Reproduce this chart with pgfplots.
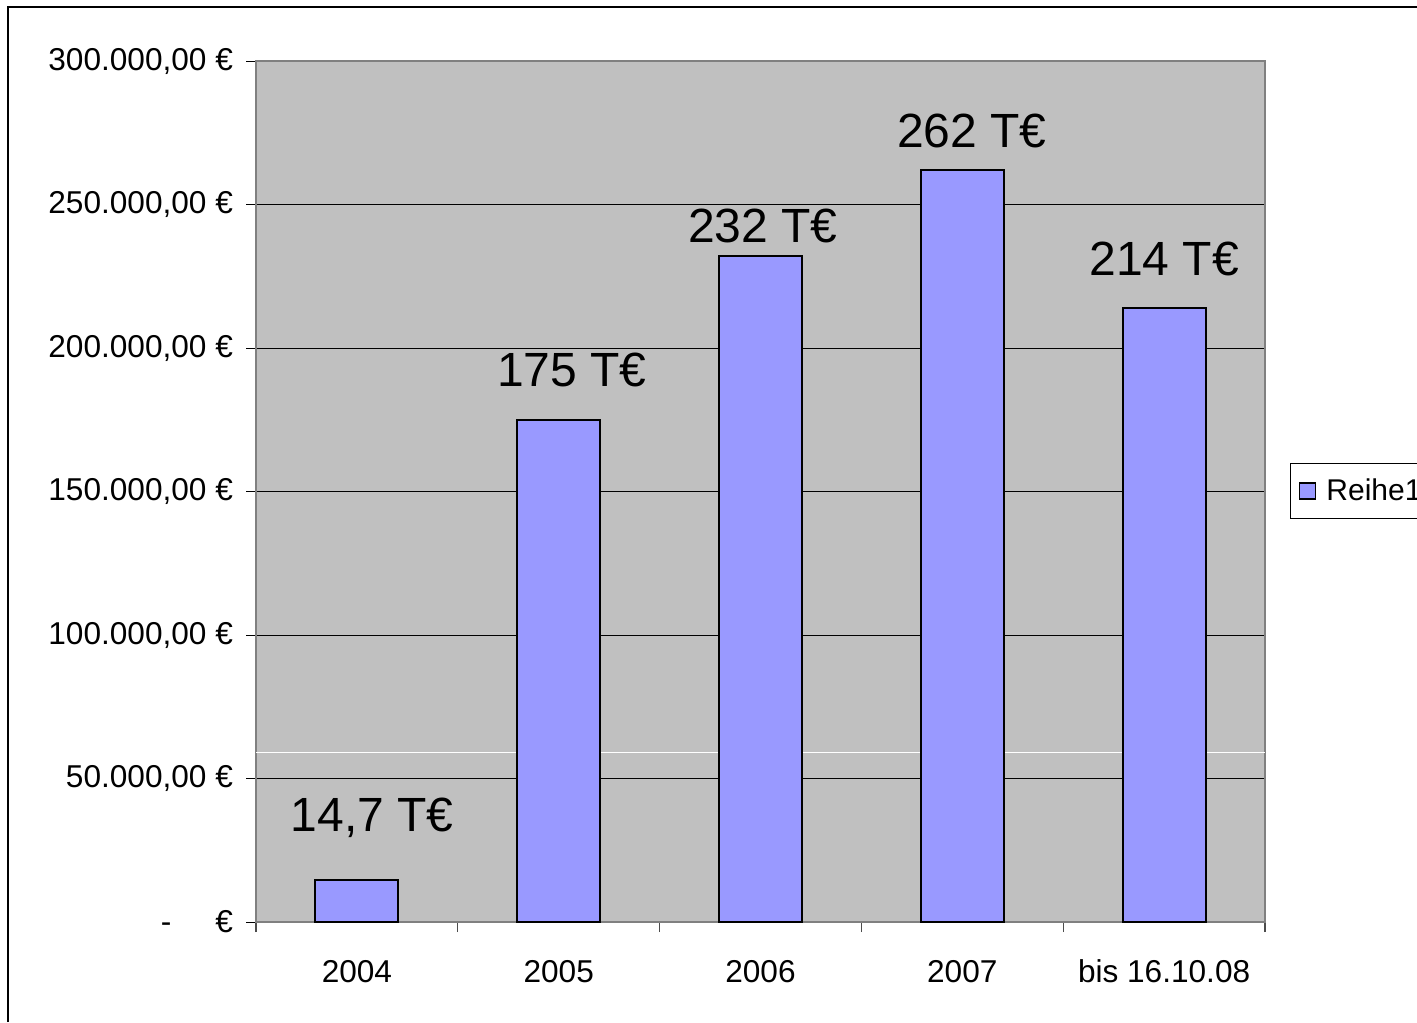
\documentclass[border=0pt]{standalone}
\usepackage{fontspec}
\setmainfont{Liberation Sans}
\usepackage{pgfplots}
\pgfplotsset{compat=1.18}
\definecolor{plotbg}{HTML}{C0C0C0}
\definecolor{barfill}{HTML}{9999FF}
\begin{document}
\begin{tikzpicture}
\begin{axis}[
  at={(128pt,-461pt)}, anchor=south west,
  scale only axis, width=504.5pt, height=430.5pt,
  xmin=-0.5, xmax=4.5, ymin=0, ymax=300000,
  axis background/.style={fill=plotbg},
  axis line style={draw=black!50, line width=0.8pt},
  ybar, bar width=41.5pt,
  tick pos=left,
  xtick={0,1,2,3,4},
  xticklabels={2004,2005,2006,2007,bis 16.10.08},
  major x tick style={draw=none},
  minor xtick={-0.5,0.5,1.5,2.5,3.5,4.5},
  minor x tick style={black!70, line width=0.6pt},
  minor tick length=5pt,
  ytick={0,50000,100000,150000,200000,250000,300000},
  yticklabels={{-\hspace{22pt}€},{50.000,00 €},{100.000,00 €},{150.000,00 €},{200.000,00 €},{250.000,00 €},{300.000,00 €}},
  tick align=outside, major tick length=5pt,
  major y tick style={black, line width=0.5pt},
  ymajorgrids, major grid style={black, line width=0.5pt},
  extra y ticks={58900}, extra y tick labels={},
  extra y tick style={major tick length=0pt, major grid style={white, line width=0.5pt}},
  scaled y ticks=false,
  tick label style={font=\fontsize{15.8}{18}\selectfont},
  xticklabel style={yshift=-10.5pt},
  yticklabel style={xshift=-3pt},
  legend style={at={(rel axis cs:1.0248,0.533)}, anchor=north west, draw=black, line width=0.6pt,
    font=\fontsize{15}{17}\selectfont, inner xsep=4pt, inner ysep=5.5pt},
  legend image code/.code={\draw[#1, line width=0.8pt] (1pt,-4pt) rectangle (9pt,4pt); \path (12pt,0pt);},
]
\addplot[fill=barfill, draw=black, line width=1pt] coordinates {(0,14700) (1,174800) (2,232000) (3,262000) (4,214000)};
\addlegendentry{Reihe1}
\node[font=\fontsize{24}{28}\selectfont] at (axis cs:0.075,36237) {14,7 T€};
\node[font=\fontsize{24}{28}\selectfont] at (axis cs:1.066,192334) {175 T€};
\node[font=\fontsize{24}{28}\selectfont] at (axis cs:2.012,242509) {232 T€};
\node[font=\fontsize{24}{28}\selectfont] at (axis cs:3.048,275610) {262 T€};
\node[font=\fontsize{24}{28}\selectfont] at (axis cs:4.0,231010) {214 T€};
\end{axis}
\draw[black, line width=1pt] (4pt,-511pt) -- (4pt,-3.5pt) -- (708.5pt,-3.5pt);
\pgfresetboundingbox
\path[use as bounding box] (0pt,0pt) rectangle (708.5pt,-511pt);
\end{tikzpicture}
\end{document}
